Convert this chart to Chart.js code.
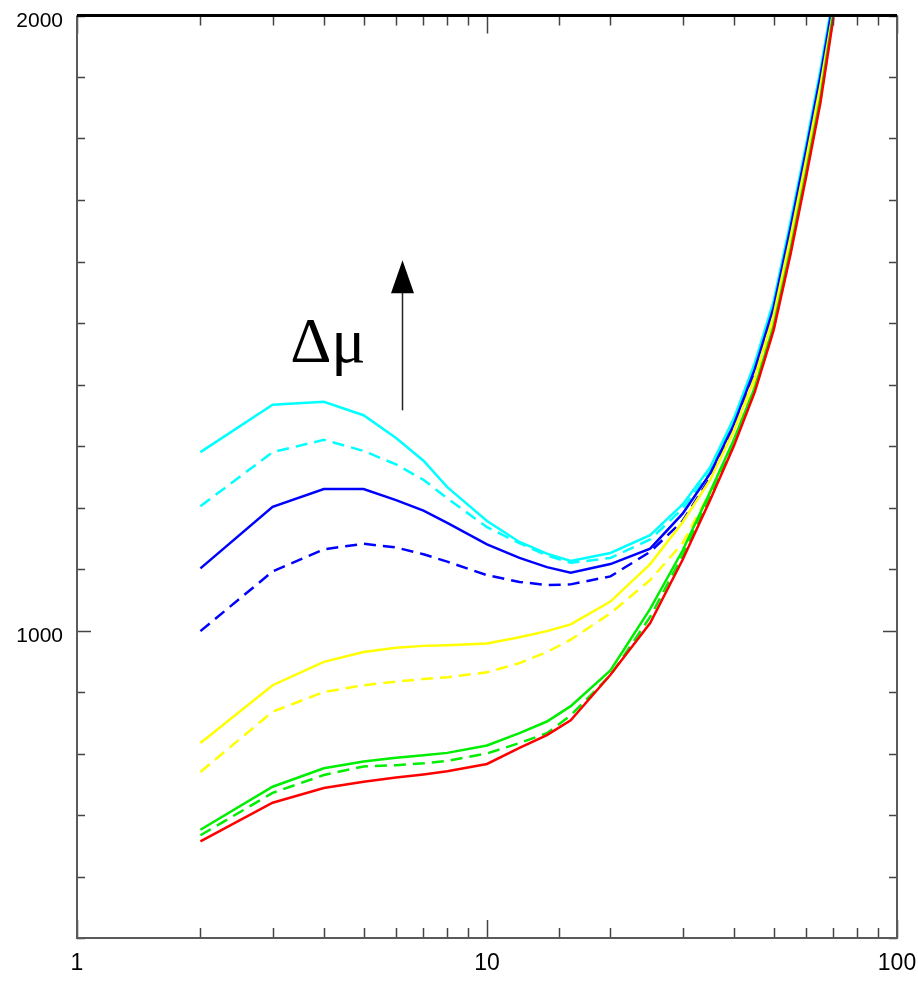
<!DOCTYPE html>
<html>
<head>
<meta charset="utf-8">
<script src="https://cdn.jsdelivr.net/npm/chart.js@4.4.1/dist/chart.umd.min.js"></script>
<style>
  html, body { margin: 0; padding: 0; background: #ffffff; }
  canvas { display: block; }
</style>
</head>
<body>
<canvas id="curves" width="918" height="982"></canvas>
<script>
// sample points along x (log axis)
const xs = [2, 3, 4, 5, 6, 7, 8, 10, 12, 14, 16, 20, 25, 30, 35, 40, 45, 50, 55, 60, 65, 70];

const cyanSolid  = [1290, 1367, 1372, 1350, 1313, 1276, 1233, 1178, 1144, 1125, 1113, 1126, 1155, 1205, 1265, 1345, 1435, 1535, 1665, 1790, 1910, 2035];
const cyanDash   = [1202, 1290, 1310, 1292, 1270, 1245, 1215, 1168, 1142, 1122, 1110, 1118, 1148, 1198, 1258, 1338, 1428, 1528, 1658, 1783, 1903, 2028];
const blueSolid  = [1101, 1201, 1230, 1230, 1212, 1195, 1175, 1140, 1118, 1103, 1094, 1108, 1133, 1190, 1255, 1335, 1425, 1525, 1655, 1780, 1900, 2025];
const blueDash   = [ 999, 1096, 1132, 1141, 1135, 1124, 1112, 1090, 1079, 1074, 1075, 1088, 1128, 1178, 1248, 1328, 1418, 1518, 1648, 1773, 1893, 2018];
const yellowSolid= [ 817,  911,  949,  965,  972,  975,  976,  979,  989,  999, 1010, 1047, 1108, 1176, 1245, 1325, 1412, 1512, 1640, 1765, 1885, 2010];
const yellowDash = [ 770,  868,  900,  911,  917,  921,  924,  932,  947,  965,  985, 1028, 1082, 1142, 1225, 1310, 1400, 1500, 1628, 1755, 1875, 2005];
const greenSolid = [ 676,  746,  776,  787,  793,  797,  801,  813,  833,  852,  877,  935, 1035, 1130, 1225, 1310, 1395, 1495, 1620, 1745, 1865, 2005];
const greenDash  = [ 667,  736,  765,  779,  781,  784,  788,  800,  817,  833,  862,  927, 1022, 1122, 1218, 1303, 1390, 1490, 1615, 1740, 1860, 2000];
const redSolid   = [ 657,  720,  744,  754,  761,  766,  771,  783,  809,  830,  854,  928, 1012, 1115, 1212, 1300, 1388, 1488, 1612, 1737, 1857, 1997];

const xLabelled = [1, 10, 100];
const yLabelled = [1000, 2000];

// arrow and its label, in data units
const arrowX = 6.2, arrowFrom = 1358, arrowTo = 1602;
const deltaMuX = 3.31, deltaMuY = 1437;

const DASH = [12, 7];

function series(ys, color, dashed) {
  return {
    data: xs.map((x, i) => ({ x, y: ys[i] })),
    borderColor: color,
    borderWidth: 2.5,
    borderDash: dashed ? DASH : [],
    pointRadius: 0,
    tension: 0,
    fill: false,
  };
}

// box, inward ticks and the arrow annotation
const framePlugin = {
  id: 'frame',
  afterDatasetsDraw(chart) {
    const { ctx, chartArea: a, scales } = chart;
    const xs_ = scales.x, ys_ = scales.y;
    ctx.save();
    ctx.strokeStyle = '#444';
    ctx.lineWidth = 1.5;
    ctx.beginPath();
    ys_.ticks.forEach((t) => {
      const py = Math.round(ys_.getPixelForValue(t.value)) + 0.5;
      const len = t.value === 1000 ? 14 : 8;
      ctx.moveTo(a.left, py); ctx.lineTo(a.left + len, py);
      ctx.moveTo(a.right, py); ctx.lineTo(a.right - len, py);
    });
    xs_.ticks.forEach((t) => {
      const px = Math.round(xs_.getPixelForValue(t.value)) + 0.5;
      const major = Math.abs(Math.log10(t.value) % 1) < 1e-9;
      const len = major ? 18 : 10;
      ctx.moveTo(px, a.bottom); ctx.lineTo(px, a.bottom - len);
      ctx.moveTo(px, a.top); ctx.lineTo(px, a.top + len);
    });
    ctx.stroke();

    ctx.strokeStyle = '#5a5a5a';
    ctx.lineWidth = 2;
    ctx.beginPath();
    ctx.moveTo(a.left, a.top); ctx.lineTo(a.left, a.bottom);
    ctx.lineTo(a.right, a.bottom); ctx.lineTo(a.right, a.top);
    ctx.stroke();
    ctx.strokeStyle = '#000';
    ctx.lineWidth = 3;
    ctx.beginPath();
    ctx.moveTo(a.left, a.top); ctx.lineTo(a.right, a.top);
    ctx.stroke();

    // arrow
    const ax = Math.round(xs_.getPixelForValue(arrowX)) + 0.5;
    const y0 = ys_.getPixelForValue(arrowFrom);
    const y1 = ys_.getPixelForValue(arrowTo);
    ctx.strokeStyle = '#222';
    ctx.lineWidth = 1.5;
    ctx.beginPath();
    ctx.moveTo(ax, y0); ctx.lineTo(ax, y1 + 30);
    ctx.stroke();
    ctx.fillStyle = '#000';
    ctx.beginPath();
    ctx.moveTo(ax, y1);
    ctx.lineTo(ax - 11.5, y1 + 33);
    ctx.lineTo(ax + 11.5, y1 + 33);
    ctx.closePath();
    ctx.fill();

    ctx.font = '64px "Liberation Serif", "DejaVu Serif", serif';
    ctx.textBaseline = 'alphabetic';
    ctx.textAlign = 'left';
    ctx.fillText('\u0394\u03bc', xs_.getPixelForValue(deltaMuX), ys_.getPixelForValue(deltaMuY));
    ctx.restore();
  },
};

new Chart(document.getElementById('curves'), {
  type: 'line',
  data: {
    datasets: [
      series(redSolid, '#ff0000', false),
      series(greenDash, '#00ee00', true),
      series(greenSolid, '#00ee00', false),
      series(yellowDash, '#ffff00', true),
      series(yellowSolid, '#ffff00', false),
      series(blueDash, '#0000ff', true),
      series(blueSolid, '#0000ff', false),
      series(cyanDash, '#00ffff', true),
      series(cyanSolid, '#00ffff', false),
    ],
  },
  options: {
    responsive: false,
    animation: false,
    events: [],
    layout: { padding: { top: 15.5, right: 21, left: 0, bottom: 0 } },
    plugins: { legend: { display: false }, tooltip: { enabled: false } },
    scales: {
      x: {
        type: 'logarithmic',
        min: 1,
        max: 100,
        grid: { display: false, drawTicks: false },
        border: { display: false },
        afterFit(scale) {
          scale.height = 44;
          scale.paddingLeft = 0;
          scale.paddingRight = 0;
        },
        ticks: {
          autoSkip: false,
          maxRotation: 0,
          padding: 12,
          color: '#000',
          font: { family: '"Liberation Sans", sans-serif', size: 23 },
          callback: (v) => (xLabelled.includes(v) ? String(v) : ''),
        },
      },
      y: {
        type: 'linear',
        min: 500,
        max: 2000,
        grid: { display: false, drawTicks: false },
        border: { display: false },
        afterFit(scale) {
          scale.width = 77;
          scale.paddingTop = 0;
          scale.paddingBottom = 0;
        },
        ticks: {
          stepSize: 100,
          padding: 14,
          labelOffset: 6,
          color: '#000',
          font: { family: '"Liberation Sans", sans-serif', size: 21 },
          callback: (v) => (yLabelled.includes(v) ? String(v) : ''),
        },
      },
    },
  },
  plugins: [framePlugin],
});
</script>
</body>
</html>
